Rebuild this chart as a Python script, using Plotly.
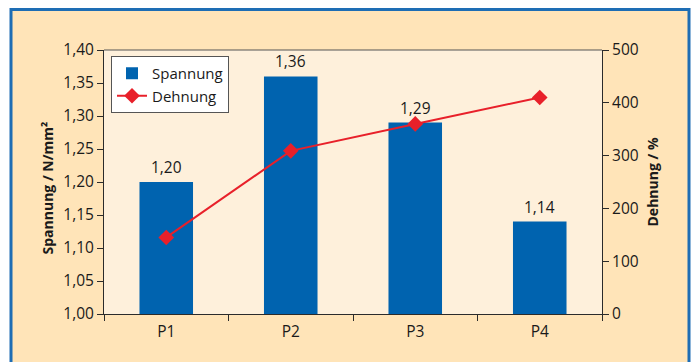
import plotly.graph_objects as go

# Prüfkörper und Messwerte
proben = ["P1", "P2", "P3", "P4"]
spannung = [1.20, 1.36, 1.29, 1.14]      # N/mm²
dehnung = [145, 309, 360, 410]           # %

# Farben
BAR_BLUE = "#0063AF"
LINE_RED = "#E8202A"
FRAME_BG = "#FFE4B8"
PLOT_BG = "#FEF0DB"
FRAME_BLUE = "#1E6DB4"
AXIS_COL = "#2b2b2b"
TEXT_COL = "#1a1a1a"
FONT = "Open Sans"

W, H = 693, 362
L, R, T, B = 104, 91, 50, 48
PW, PH = W - L - R, H - T - B


def px_x(x):
    return (x - L) / PW


def px_y(y):
    return (H - B - y) / PH


fig = go.Figure()

fig.add_trace(go.Bar(
    x=proben, y=spannung, name="Spannung",
    marker=dict(color=BAR_BLUE, line=dict(width=0)),
    width=0.43, yaxis="y",
))

fig.add_trace(go.Scatter(
    x=proben, y=dehnung, name="Dehnung", mode="lines+markers",
    line=dict(color=LINE_RED, width=2),
    marker=dict(symbol="diamond", size=12, color=LINE_RED),
    yaxis="y2", cliponaxis=False,
))

# Wertebeschriftung über den Säulen
for p, v in zip(proben, spannung):
    fig.add_annotation(
        x=p, y=v, xref="x", yref="y", text=f"{v:.2f}".replace(".", ","),
        showarrow=False, yanchor="bottom", yshift=2,
        font=dict(family=FONT, size=15.5, color=TEXT_COL),
    )

# Achsentitel
fig.add_annotation(
    x=px_x(35), y=px_y(188), xref="paper", yref="paper",
    text="<b>Spannung / N/mm²</b>", textangle=-90, showarrow=False,
    font=dict(family=FONT, size=14, color=TEXT_COL),
)
fig.add_annotation(
    x=px_x(663), y=px_y(182), xref="paper", yref="paper",
    text="<b>Dehnung / %</b>", textangle=-90, showarrow=False,
    font=dict(family=FONT, size=14, color=TEXT_COL),
)

# Rahmen und Hintergründe
fig.add_shape(
    type="rect", xref="paper", yref="paper", layer="below",
    x0=px_x(11), x1=px_x(689), y0=px_y(380), y1=px_y(9.5),
    fillcolor=FRAME_BG, line=dict(color=FRAME_BLUE, width=3),
)
fig.add_shape(
    type="rect", xref="paper", yref="paper", layer="below",
    x0=0, x1=1, y0=0, y1=1,
    fillcolor=PLOT_BG, line=dict(width=0),
)
fig.add_shape(
    type="line", xref="paper", yref="paper",
    x0=0, x1=1, y0=1, y1=1,
    line=dict(color="#555", width=1),
)

tick_font = dict(family=FONT, size=15.5, color=TEXT_COL)

fig.update_layout(
    width=W, height=H,
    margin=dict(l=L, r=R, t=T, b=B),
    paper_bgcolor="white", plot_bgcolor="rgba(0,0,0,0)",
    separators=",.",
    showlegend=True,
    legend=dict(
        x=px_x(111), y=px_y(56), xanchor="left", yanchor="top",
        bgcolor="white", bordercolor="#555", borderwidth=1,
        font=dict(family=FONT, size=15, color=TEXT_COL),
        tracegroupgap=0, itemwidth=30,
    ),
    xaxis=dict(
        type="category", tickson="boundaries", ticks="outside", ticklen=6,
        tickcolor=AXIS_COL, showline=True, linecolor=AXIS_COL, linewidth=1,
        showgrid=False, tickfont=tick_font, ticklabelstandoff=3,
    ),
    yaxis=dict(
        range=[1.0, 1.4], dtick=0.05, tickformat=".2f",
        ticks="outside", ticklen=6, tickcolor=AXIS_COL,
        showline=True, linecolor=AXIS_COL, linewidth=1,
        showgrid=False, zeroline=False, tickfont=tick_font,
    ),
    yaxis2=dict(
        range=[0, 500], dtick=100, overlaying="y", side="right",
        ticks="outside", ticklen=6, tickcolor=AXIS_COL,
        showline=True, linecolor=AXIS_COL, linewidth=1,
        showgrid=False, zeroline=False, tickfont=tick_font,
    ),
    bargap=0.57,
)

fig.write_html("out.html")
